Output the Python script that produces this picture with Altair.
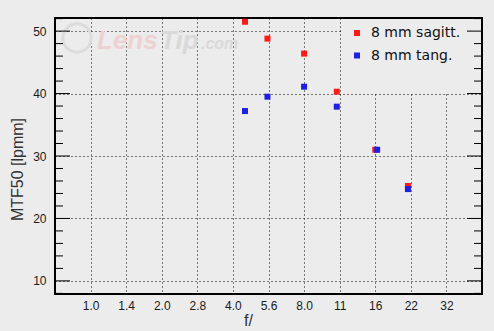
import json
import altair as alt
import pandas as pd

# ---- data ----
f_sag = [4.5, 5.6, 8.0, 11.0, 16.0, 22.0]
mtf_sag = [51.5, 48.8, 46.4, 40.3, 31.0, 25.2]
f_tan = [4.5, 5.6, 8.0, 11.0, 16.3, 22.0]
mtf_tan = [37.2, 39.5, 41.1, 37.9, 31.0, 24.7]
series_names = ["8 mm sagitt.", "8 mm tang."]
x_tick_labels = ["1.0", "1.4", "2.0", "2.8", "4.0", "5.6", "8.0", "11", "16", "22", "32"]
y_major = [10, 20, 30, 40, 50]
y_minor = [8, 12, 14, 16, 18, 22, 24, 26, 28, 32, 34, 36, 38, 42, 44, 46, 48, 52]

BG = "#ececec"
W, H = 427, 276

pts = pd.DataFrame(
    {"f": f_sag + f_tan,
     "mtf": mtf_sag + mtf_tan,
     "series": [series_names[0]] * len(f_sag) + [series_names[1]] * len(f_tan)}
)

xscale = alt.Scale(domain=[-1, 11], nice=False, zero=False)
yscale = alt.Scale(domain=[7.9, 52.1], nice=False, zero=False)

label_expr = json.dumps(x_tick_labels) + "[datum.value]"

yaxis = alt.Axis(values=y_major, grid=True, gridColor="black", gridDash=[1, 3],
                 gridOpacity=1, ticks=False, domain=False,
                 labelFont="Liberation Sans", labelFontSize=12, labelColor="#1a1a1a",
                 labelPadding=9, titleFont="Liberation Sans", titleFontSize=16,
                 titleFontWeight="normal", titleColor="#333333",
                 titleAngle=-90, titleX=-38, titleY=151, titleBaseline="middle",
                 titleAlign="center")
YTITLE = "MTF50 [lpmm]"

points = alt.Chart(pts).transform_calculate(
    idx="2*log(datum.f)/log(2)"
).mark_point(shape="square", filled=True, size=36, opacity=1).encode(
    x=alt.X("idx:Q", scale=xscale, title="f/",
            axis=alt.Axis(values=list(range(11)), labelExpr=label_expr,
                          grid=True, gridColor="black", gridDash=[1, 3], gridOpacity=1,
                          ticks=False, domain=False, labelFont="Liberation Sans",
                          labelFontSize=12, labelColor="#1a1a1a", labelPadding=6,
                          titleFont="Liberation Sans", titleFontSize=16, titleFontWeight="normal",
                          titleColor="#333333", titleX=193, titleY=26, titleBaseline="middle")),
    y=alt.Y("mtf:Q", scale=yscale, title=YTITLE, axis=yaxis),
    color=alt.Color("series:N",
                    scale=alt.Scale(domain=series_names, range=["#ff1a1a", "#1f1fdf"]),
                    legend=alt.Legend(title=None, orient="none", legendX=287, legendY=0,
                                      padding=8, symbolType="square", symbolSize=36,
                                      symbolStrokeWidth=0, labelFont="DejaVu Sans",
                                      labelFontSize=14, labelColor="#111111",
                                      labelOffset=7, rowPadding=8.5)),
    order=alt.Order("series:N", sort="ascending"),
)

# background patch behind legend (hides grid as in the reference)
legend_bg = alt.Chart(pd.DataFrame({"a": [0]})).mark_rect(color=BG).encode(
    x=alt.value(287), x2=alt.value(426), y=alt.value(1), y2=alt.value(74)
)

major_df = pd.DataFrame({"v": y_major})
minor_df = pd.DataFrame({"v": y_minor})

def tick_layer(df, x0, x1):
    return alt.Chart(df).mark_rule(color="black", strokeWidth=1).encode(
        y=alt.Y("v:Q", scale=yscale, title=YTITLE, axis=yaxis),
        x=alt.value(x0), x2=alt.value(x1),
    )

ticks = (tick_layer(major_df, 0, 15) + tick_layer(minor_df, 0, 8)
         + tick_layer(major_df, W - 15, W) + tick_layer(minor_df, W - 8, W))

# faint watermark
wm = pd.DataFrame({"a": [0]})
wm_circle = alt.Chart(wm).mark_point(shape="circle", size=800, strokeWidth=3,
                                     color="#dcdcdc", opacity=1).encode(
    x=alt.value(22), y=alt.value(20))
wm_lens = alt.Chart(wm).mark_text(text="Lens", font="Liberation Sans", fontSize=26,
                                  fontStyle="italic", fontWeight="bold", color="#ecd2d2",
                                  align="left", baseline="alphabetic").encode(
    x=alt.value(42), y=alt.value(31))
wm_tip = alt.Chart(wm).mark_text(text="Tip", font="Liberation Sans", fontSize=26,
                                 fontStyle="italic", fontWeight="bold", color="#d9d9d9",
                                 align="left", baseline="alphabetic").encode(
    x=alt.value(105), y=alt.value(31))
wm_com = alt.Chart(wm).mark_text(text=".com", font="Liberation Sans", fontSize=16,
                                 fontStyle="italic", fontWeight="bold", color="#d9d9d9",
                                 align="left", baseline="alphabetic").encode(
    x=alt.value(146), y=alt.value(31))

chart = alt.layer(
    points, wm_circle, wm_lens, wm_tip, wm_com, legend_bg, ticks
).properties(
    width=W, height=H, background=BG,
    padding={"left": 55, "top": 18, "right": 12, "bottom": 37},
    autosize=alt.AutoSizeParams(type="none"),
).configure_view(stroke="black", strokeWidth=2, fill=BG)

chart.save("out.html", embed_options={"renderer": "svg", "actions": False})
